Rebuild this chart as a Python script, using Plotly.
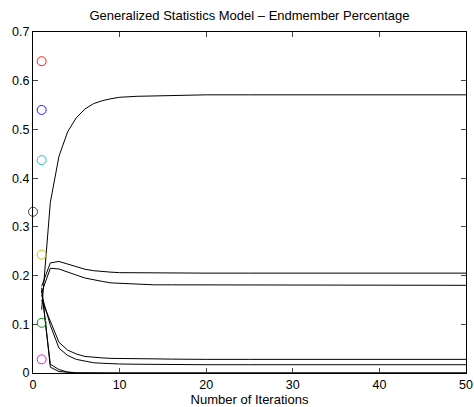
import plotly.graph_objects as go

# Iteration numbers at which the estimates were sampled
iters = [1, 2, 3, 4, 5, 6, 7, 8, 9, 10, 12, 14, 16, 18, 20, 25, 30, 40, 50]

# Endmember percentage estimates per iteration
em_a = [0.130, 0.350, 0.445, 0.495, 0.524, 0.542, 0.553, 0.559, 0.563, 0.566,
        0.568, 0.569, 0.570, 0.570, 0.571, 0.571, 0.571, 0.571, 0.571]
em_b = [0.178, 0.226, 0.229, 0.224, 0.218, 0.213, 0.210, 0.208, 0.207, 0.206,
        0.2055, 0.205, 0.205, 0.205, 0.205, 0.205, 0.205, 0.205, 0.205]
em_c = [0.165, 0.215, 0.2135, 0.208, 0.201, 0.195, 0.191, 0.188, 0.185, 0.184,
        0.182, 0.181, 0.181, 0.181, 0.180, 0.180, 0.180, 0.180, 0.180]
em_d = [0.150, 0.105, 0.063, 0.047, 0.039, 0.034, 0.032, 0.031, 0.030, 0.0295,
        0.029, 0.029, 0.0285, 0.028, 0.028, 0.028, 0.028, 0.028, 0.028]
em_e = [0.160, 0.098, 0.051, 0.036, 0.028, 0.024, 0.021, 0.020, 0.019, 0.0185,
        0.018, 0.0175, 0.017, 0.017, 0.017, 0.017, 0.017, 0.017, 0.017]
em_f = [0.170, 0.018, 0.007, 0.002, 0.0005, 0.0, 0.0, 0.0, 0.0, 0.0,
        0.0, 0.0, 0.0, 0.0, 0.0, 0.0, 0.0, 0.0, 0.0]
em_g = [0.175, 0.012, 0.003, 0.001, 0.0, 0.0, 0.0, 0.0, 0.0, 0.0,
        0.0, 0.0, 0.0, 0.0, 0.0, 0.0, 0.0, 0.0, 0.0]
series = [em_a, em_b, em_c, em_d, em_e, em_f, em_g]

# True endmember percentages (circles)
true_x = [1, 1, 1, 0, 1, 1, 1]
true_y = [0.640, 0.540, 0.437, 0.331, 0.243, 0.103, 0.028]
true_colors = ["#ff2020", "#2020ff", "#20c0c0", "#404040", "#c8c800", "#109010", "#d020d0"]

x_ticks = [0, 10, 20, 30, 40, 50]
y_ticks = [0, 0.1, 0.2, 0.3, 0.4, 0.5, 0.6, 0.7]
y_tick_text = ["0", "0.1", "0.2", "0.3", "0.4", "0.5", "0.6", "0.7"]

fig = go.Figure()
for s in series:
    fig.add_trace(go.Scatter(x=iters, y=s, mode="lines",
                             line=dict(color="black", width=1),
                             showlegend=False, hoverinfo="skip"))

fig.add_trace(go.Scatter(x=true_x, y=true_y, mode="markers",
                         marker=dict(symbol="circle-open", size=9,
                                     color=true_colors, line=dict(width=1)),
                         cliponaxis=False, showlegend=False))

family = "Liberation Sans, Arial, sans-serif"
tick_font = dict(family=family, size=12.5, color="black")
label_font = dict(family=family, size=13, color="black")

fig.update_layout(
    width=474, height=407,
    margin=dict(l=33, r=8, t=32, b=34, autoexpand=False),
    paper_bgcolor="white", plot_bgcolor="white",
    font=dict(family=family, size=12.5, color="black"),
    title=dict(text="Generalized Statistics Model \u2013 Endmember Percentage",
               x=(33 + 466) / 2 / 474, xanchor="center",
               y=1 - 15 / 407, yanchor="middle", yref="container",
               font=label_font),
    xaxis=dict(range=[0, 50], tickvals=x_ticks, ticks="inside", ticklen=5,
               showline=True, linecolor="black", linewidth=1, mirror="ticks",
               showgrid=False, zeroline=False, automargin=False,
               title=dict(text="Number of Iterations", standoff=0,
                          font=label_font),
               tickfont=tick_font),
    yaxis=dict(range=[0, 0.7], tickvals=y_ticks, ticktext=y_tick_text,
               ticks="inside", ticklen=5, automargin=False,
               showline=True, linecolor="black", linewidth=1, mirror="ticks",
               showgrid=False, zeroline=False, tickfont=tick_font),
)

fig.write_html("out.html", config={"displayModeBar": False},
               post_script="document.body.style.margin='0';")
